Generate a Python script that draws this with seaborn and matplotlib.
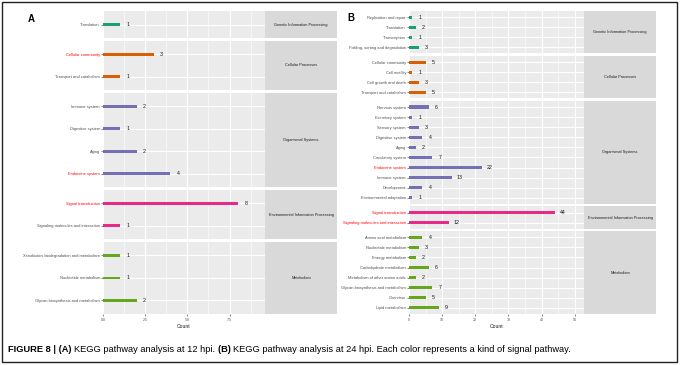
"""
KEGG pathway enrichment bars for 12 hpi (A) and 24 hpi (B), faceted by pathway class.
Saves out.png (680x365 px).
"""

import matplotlib
matplotlib.use("Agg")
import matplotlib.pyplot as plt
import pandas as pd
import seaborn as sns
from matplotlib.patches import Rectangle
from matplotlib.transforms import offset_copy

# ---- data -------------------------------------------------------------
classes = [
    "Genetic Information Processing",
    "Cellular Processes",
    "Organismal Systems",
    "Environmental Information Processing",
    "Metabolism",
]

# panel A (12 hpi)
a_terms = [
    "Translation",
    "Cellular community", "Transport and catabolism",
    "Immune system", "Digestive system", "Aging", "Endocrine system",
    "Signal transduction", "Signaling molecules and interaction",
    "Xenobiotics biodegradation and metabolism", "Nucleotide metabolism",
    "Glycan biosynthesis and metabolism",
]
a_counts = [1, 3, 1, 2, 1, 2, 4, 8, 1, 1, 1, 2]
a_class = [0, 1, 1, 2, 2, 2, 2, 3, 3, 4, 4, 4]
a_red = ["Cellular community", "Endocrine system", "Signal transduction"]

# panel B (24 hpi)
b_terms = [
    "Replication and repair", "Translation", "Transcription",
    "Folding, sorting and degradation",
    "Cellular community", "Cell motility", "Cell growth and death",
    "Transport and catabolism",
    "Nervous system", "Excretory system", "Sensory system", "Digestive system",
    "Aging", "Circulatory system", "Endocrine system", "Immune system",
    "Development", "Environmental adaptation",
    "Signal transduction", "Signaling molecules and interaction",
    "Amino acid metabolism", "Nucleotide metabolism", "Energy metabolism",
    "Carbohydrate metabolism", "Metabolism of other amino acids",
    "Glycan biosynthesis and metabolism", "Overview", "Lipid metabolism",
]
b_counts = [1, 2, 1, 3, 5, 1, 3, 5, 6, 1, 3, 4, 2, 7, 22, 13, 4, 1,
            44, 12, 4, 3, 2, 6, 2, 7, 5, 9]
b_class = [0] * 4 + [1] * 4 + [2] * 10 + [3] * 2 + [4] * 8
b_red = ["Endocrine system", "Signal transduction",
         "Signaling molecules and interaction"]

a_xticks = [0, 2.5, 5, 7.5]
a_xlabels = ["0.0", "2.5", "5.0", "7.5"]
b_xticks = [0, 10, 20, 30, 40, 50]
b_xlabels = ["0", "10", "20", "30", "40", "50"]

# ---- style ------------------------------------------------------------
sns.set_theme(style="darkgrid", rc={
    "axes.facecolor": "#EBEBEB",
    "grid.color": "white",
})
plt.rcParams["font.family"] = ["Liberation Sans", "DejaVu Sans"]
palette = sns.color_palette("Dark2", 5)

W, H = 680, 365
fig = plt.figure(figsize=(W / 100, H / 100), dpi=100)
fig.patch.set_facecolor("white")


def fx(px):
    return px / W


def fy(py):
    return 1 - py / H


def draw_panel(terms, counts, cls, red, left, right, strip_right,
               xticks, xlabels, minor, bar_w, top=11, bottom=314, gap=2.6):
    df = pd.DataFrame({"term": terms, "count": counts, "cls": cls})
    xmax = max(counts) * 1.2
    sizes = [int((df["cls"] == k).sum()) for k in range(len(classes))]
    units = sum(n + 0.2 for n in sizes)
    ppu = (bottom - top - gap * (len(classes) - 1)) / units
    y = top
    axes = []
    for k, n in enumerate(sizes):
        h = (n + 0.2) * ppu
        sub = df[df["cls"] == k].reset_index(drop=True)
        ax = fig.add_axes([fx(left), fy(y + h), fx(right - left), h / H])
        sns.barplot(data=sub, x="count", y="term", order=list(sub["term"]),
                    color=palette[k], saturation=1, width=bar_w,
                    orient="h", linewidth=0, edgecolor="none", ax=ax)
        ax.set_xlim(0, xmax)
        ax.set_ylim(n - 0.4, -0.6)
        ax.set_xticks(xticks)
        ax.set_xticks(minor, minor=True)
        ax.grid(which="major", color="white", lw=0.8)
        ax.grid(which="minor", axis="x", color="white", lw=0.4)
        ax.set_axisbelow(True)
        for s in ax.spines.values():
            s.set_visible(False)
        ax.set_xlabel("")
        ax.set_ylabel("")
        ax.tick_params(axis="y", which="major", length=1.6, width=0.4,
                       color="#333333", pad=0.6, labelsize=2.9,
                       labelcolor="#4D4D4D", left=True)
        ax.tick_params(axis="x", which="both", length=0)
        for lab in ax.get_yticklabels():
            if lab.get_text() in red:
                lab.set_color("#FF0000")
        for i, c in enumerate(sub["count"]):
            ax.annotate(str(c), xy=(c, i), xytext=(5.6, 0),
                        textcoords="offset points", ha="center",
                        va="center", fontsize=3.8, color="#1A1A1A")
        # facet strip on the right
        sax = fig.add_axes([fx(right), fy(y + h), fx(strip_right - right), h / H])
        sax.set_facecolor("#D9D9D9")
        sax.set_xticks([])
        sax.set_yticks([])
        sax.grid(False)
        for s in sax.spines.values():
            s.set_visible(False)
        sax.text(0.5, 0.5, classes[k], ha="center", va="center",
                 fontsize=2.8, color="#1A1A1A", transform=sax.transAxes)
        axes.append(ax)
        y += h + gap
    last = axes[-1]
    for ax in axes[:-1]:
        ax.set_xticklabels([])
    last.set_xticklabels(xlabels)
    last.tick_params(axis="x", which="major", length=1.6, width=0.4,
                     color="#333333", pad=1.2, labelsize=2.6,
                     labelcolor="#4D4D4D", bottom=True)
    last.set_xlabel("Count", fontsize=3.7, color="#1A1A1A", labelpad=1.5)
    return axes


draw_panel(a_terms, a_counts, a_class, a_red, 103, 265, 337,
           a_xticks, a_xlabels, [1.25, 3.75, 6.25, 8.75], bar_w=0.13)
draw_panel(b_terms, b_counts, b_class, b_red, 409, 584, 656,
           b_xticks, b_xlabels, [5, 15, 25, 35, 45], bar_w=0.3)

fig.text(fx(31), fy(19), "A", fontsize=7, fontweight="bold",
         ha="center", va="center", color="black")
fig.text(fx(351), fy(18), "B", fontsize=7, fontweight="bold",
         ha="center", va="center", color="black")

# caption with bold parts, chained left to right
pieces = [
    ("FIGURE 8 | (A) ", "bold"),
    ("KEGG pathway analysis at 12 hpi. ", "normal"),
    ("(B) ", "bold"),
    ("KEGG pathway analysis at 24 hpi. Each color represents a kind of signal pathway.", "normal"),
]
renderer = fig.canvas.get_renderer()
trans = fig.transFigure
for txt, wt in pieces:
    t = fig.text(fx(8), fy(350), txt, fontsize=6.65, fontweight=wt,
                 ha="left", va="center", color="black", transform=trans)
    ext = t.get_window_extent(renderer)
    trans = offset_copy(trans, fig=fig, x=ext.width, y=0, units="dots")

fig.patches.append(Rectangle((fx(2), fy(362)), fx(675), (360) / H,
                             transform=fig.transFigure, fill=False,
                             edgecolor="#222222", lw=1.0))

fig.savefig("out.png", dpi=100)
